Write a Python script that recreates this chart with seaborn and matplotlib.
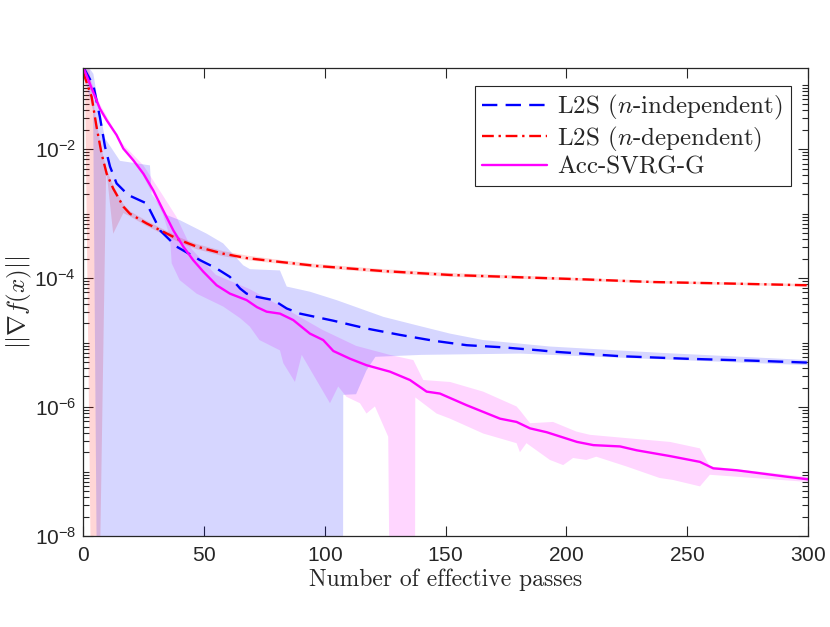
import numpy as np
import matplotlib
matplotlib.use("Agg")
import matplotlib.pyplot as plt
import matplotlib.ticker as mticker
import seaborn as sns

# values, y given as log10
blue_x = [0, 4.3, 7.0, 9.1, 11.2, 13.9, 18.7, 26.3, 29.8, 31.9, 38.7, 41.5, 48.4, 55.3,
          60.8, 65.0, 67.7, 72, 78.8, 84.3, 89.8, 103.6, 117.2, 131.2, 145, 158.8, 172.6,
          189.1, 194.5, 222.2, 249.8, 277.4, 300]
blue_log = [-0.72, -1.01, -1.50, -1.96, -2.27, -2.53, -2.71, -2.84, -3.10, -3.26, -3.51,
            -3.57, -3.72, -3.85, -3.98, -4.16, -4.24, -4.29, -4.34, -4.47, -4.55, -4.66,
            -4.78, -4.88, -4.97, -5.04, -5.07, -5.12, -5.14, -5.21, -5.25, -5.28, -5.31]

blue_band_up_x = [0, 4.3, 6.3, 9.1, 15.3, 27.7, 28.4, 34.6, 40.1, 51.2, 58, 66.3, 69.1, 81.5,
                  84.3, 93.9, 104.9, 114.6, 124.3, 138, 151.9, 165.6, 193.2, 240, 300]
blue_band_up = [-0.6, -0.83, -1.29, -1.83, -2.18, -2.25, -2.69, -3.02, -3.10, -3.31, -3.46,
                -3.80, -3.86, -3.88, -4.13, -4.21, -4.34, -4.47, -4.60, -4.73, -4.86, -4.96,
                -5.06, -5.16, -5.27]
blue_band_lo_x = [0, 4.2, 5.6, 6.0, 107.5, 107.7, 113, 117.3, 121, 140, 180.8, 240, 300]
blue_band_lo = [-0.8, -1.4, -8.0, -12, -12, -5.81, -5.8, -5.43, -5.22, -5.19, -5.17, -5.26, -5.35]

red_x = [0, 3.6, 5.6, 7.7, 9.8, 12.5, 16.7, 19.4, 26.3, 33.2, 40.1, 47.0, 58.0, 68.0, 82.0,
         96.6, 124.3, 151.9, 180, 208.4, 236, 263.6, 300]
red_log = [-0.80, -1.19, -1.65, -2.07, -2.38, -2.61, -2.89, -3.00, -3.15, -3.28, -3.41, -3.51,
           -3.62, -3.69, -3.75, -3.81, -3.89, -3.95, -3.985, -4.02, -4.06, -4.08, -4.11]

red_band_up_x = [0, 2, 3.6, 5.6, 7.7, 9.8, 12.5, 16.7, 19.4, 26.3, 33.2, 40.1, 47, 58, 68, 82,
                 96.6, 124.3, 151.9, 180, 236, 300]
red_band_up = [0, -0.5, -1.1, -1.58, -2.0, -2.32, -2.56, -2.85, -2.96, -3.11, -3.24, -3.37,
               -3.47, -3.58, -3.65, -3.72, -3.78, -3.86, -3.92, -3.96, -4.04, -4.09]
red_band_lo_x = [0, 0.8, 3.4, 5.5, 9.6, 12.5, 16.7, 19.4, 26.3, 33.2, 40.1, 47, 58, 68, 82,
                 96.6, 124.3, 151.9, 180, 236, 300]
red_band_lo = [-0.6, -0.75, -9.0, -12, -2.3, -3.31, -2.99, -3.04, -3.19, -3.32, -3.45, -3.55,
               -3.66, -3.72, -3.78, -3.84, -3.92, -3.98, -4.01, -4.08, -4.13]

mag_x = [0, 7.0, 9.8, 13.9, 16.7, 20.8, 25.0, 29.1, 33.2, 37.4, 41.5, 45.6, 49.8, 55.3, 60.8,
         67.7, 72, 76, 81.5, 87, 93.9, 99.4, 103.6, 110.5, 117.3, 127, 135.3, 142.2, 147.7,
         158.7, 172.6, 179.4, 185, 191.9, 204.4, 211.2, 222.2, 229.1, 242.9, 255.3, 260.8,
         270.5, 291.2, 300]
mag_log = [-0.72, -1.37, -1.55, -1.78, -1.99, -2.17, -2.38, -2.64, -2.95, -3.26, -3.51, -3.72,
           -3.90, -4.11, -4.24, -4.34, -4.45, -4.52, -4.55, -4.65, -4.86, -4.96, -5.13, -5.25,
           -5.35, -5.45, -5.58, -5.76, -5.79, -5.97, -6.18, -6.23, -6.33, -6.39, -6.54, -6.59,
           -6.61, -6.67, -6.76, -6.85, -6.95, -6.98, -7.08, -7.12]

mag_band_up_x = [0, 7, 16, 25, 32.6, 38.7, 45, 55, 69, 85, 99, 113, 127, 136.7, 140.8, 151.9,
                 165.6, 179.4, 180.8, 185, 194.5, 204.2, 209.8, 227.6, 242.9, 255.3, 259.4, 299.4, 300]
mag_band_up = [-0.6, -1.3, -1.9, -2.25, -2.69, -3.05, -3.55, -3.95, -4.17, -4.5, -4.8, -5.05,
               -5.19, -5.27, -5.58, -5.61, -5.76, -5.99, -6.05, -6.25, -6.23, -6.38, -6.43,
               -6.49, -6.54, -6.64, -6.92, -7.08, -7.08]
mag_band_lo_x = [0, 7, 15, 25, 33, 36, 36.7, 40, 47, 58, 65, 69, 73, 81.5, 82.9, 87.7, 90.5,
                 102.2, 105.6, 109, 114.6, 117.3, 120.8, 126.3, 127.6, 137.3, 137.5, 146.3,
                 151.9, 165.6, 179.4, 180.8, 183.5, 193.2, 198.7, 202.8, 208.3, 212.4, 224.8,
                 238.6, 244.1, 255.3, 259.4, 299.4, 300]
mag_band_lo = [-0.8, -1.42, -1.85, -2.42, -3.0, -3.36, -3.77, -4.03, -4.24, -4.44, -4.62, -4.75,
               -4.96, -5.12, -5.32, -5.61, -5.19, -5.94, -5.68, -5.84, -5.94, -6.10, -5.99,
               -6.46, -12, -12, -5.85, -6.10, -6.18, -6.41, -6.56, -6.70, -6.56, -6.82, -6.90,
               -6.79, -6.82, -6.77, -6.92, -7.10, -7.13, -7.23, -7.05, -7.16, -7.16]

labels = ["L2S ($n$-independent)", "L2S ($n$-dependent)", "Acc-SVRG-G"]
yticks = [1e-8, 1e-6, 1e-4, 1e-2]
ytick_labels = [r"$\mathregular{10^{-8}}$", r"$\mathregular{10^{-6}}$",
                r"$\mathregular{10^{-4}}$", r"$\mathregular{10^{-2}}$"]

sns.set_style("ticks")
plt.rcParams["font.family"] = ["Liberation Sans", "DejaVu Sans"]
plt.rcParams["mathtext.fontset"] = "cm"
plt.rcParams["axes.formatter.use_mathtext"] = True

axcol = "#262626"
fig = plt.figure(figsize=(8.3, 6.27), dpi=100)
ax = fig.add_axes([0.1, 0.1451, 0.8735, 0.7464])


def pw(v):
    return 10.0 ** np.array(v)


def band(xu, up, xl, lo, color):
    # merge both edges on one x grid so fill_between can draw the polygon
    xs = np.unique(np.concatenate([xu, xl]))
    u = np.interp(xs, xu, up)
    lw_ = np.interp(xs, xl, lo)
    ax.fill_between(xs, pw(lw_), pw(u), color=color, alpha=0.16, lw=0)


band(mag_band_up_x, mag_band_up, mag_band_lo_x, mag_band_lo, "#ff00ff")
band(red_band_up_x, red_band_up, red_band_lo_x, red_band_lo, "#ff0000")
band(blue_band_up_x, blue_band_up, blue_band_lo_x, blue_band_lo, "#0000ff")

sns.lineplot(x=blue_x, y=pw(blue_log), color="#0000ff", lw=1.7, ax=ax, label=labels[0],
             estimator=None, sort=False)
ax.lines[-1].set_dashes((6.5, 3.5))
sns.lineplot(x=red_x, y=pw(red_log), color="#ff0000", lw=1.7, ax=ax, label=labels[1],
             estimator=None, sort=False)
ax.lines[-1].set_dashes((5, 2, 1, 2))
sns.lineplot(x=mag_x, y=pw(mag_log), color="#ff00ff", lw=1.7, ax=ax, label=labels[2],
             estimator=None, sort=False)

ax.set_yscale("log")
ax.set_xlim(0, 300)
ax.set_ylim(1e-8, 10 ** -0.74)
ax.set_xticks([0, 50, 100, 150, 200, 250, 300])
ax.set_yticks(yticks)
ax.set_yticklabels(ytick_labels)
ax.yaxis.set_minor_locator(mticker.LogLocator(base=10, subs=np.arange(1, 10), numticks=30))
ax.yaxis.set_minor_formatter(mticker.NullFormatter())
ax.tick_params(which="both", direction="in", top=True, right=True, colors=axcol,
               labelsize=15, width=0.8)
ax.tick_params(which="major", length=7)
ax.tick_params(which="minor", length=4)
ax.tick_params(axis="x", which="major", pad=7)
ax.tick_params(axis="y", which="major", pad=5)
ax.tick_params(axis="x", which="minor", top=False, bottom=False)
for s in ax.spines.values():
    s.set_color(axcol)
    s.set_linewidth(0.9)

ax.set_xlabel("Number of effective passes", family="cmr10", fontsize=17, color=axcol,
              labelpad=3)
ax.set_ylabel(r"$||\nabla f(x)||$", fontsize=18, color=axcol, labelpad=0)

leg = ax.legend(loc="upper right", fancybox=False, framealpha=1, edgecolor=axcol,
                prop={"family": "cmr10", "size": 18}, handlelength=2.6,
                borderaxespad=0.7, labelspacing=0.1, borderpad=0.3, handletextpad=0.4)
leg.get_frame().set_linewidth(0.8)

fig.savefig("out.png", dpi=100)
